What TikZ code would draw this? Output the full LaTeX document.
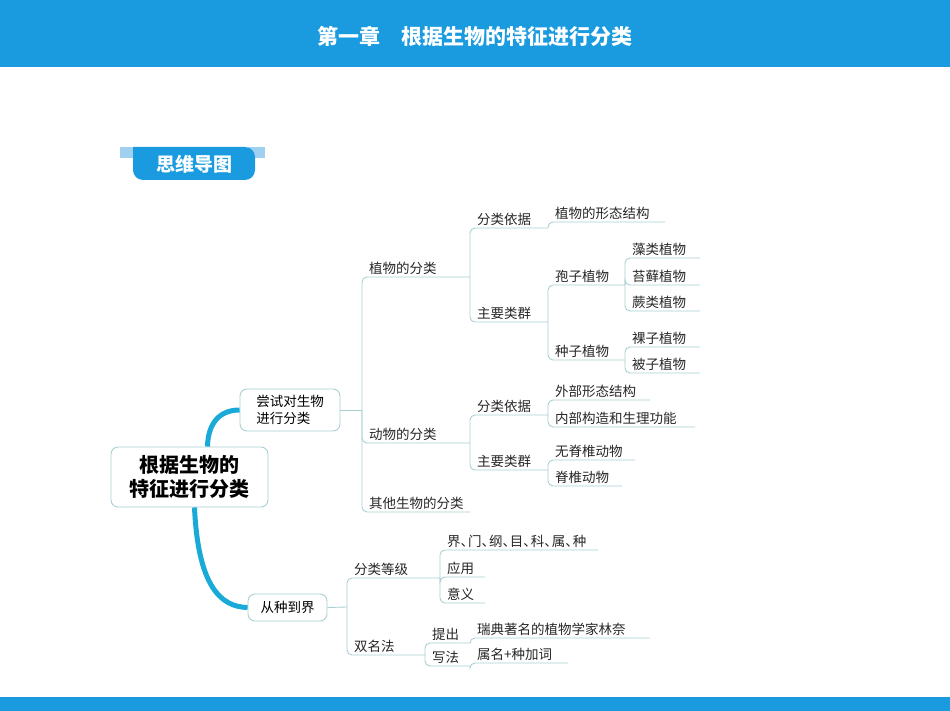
\documentclass[tikz,border=0pt]{standalone}
\usepackage{fontspec}
\setmainfont{Noto Sans CJK SC}
\usetikzlibrary{calc}

\definecolor{hdrblue}{HTML}{1A9BDF}
\definecolor{tabblue}{HTML}{9FD0F0}
\definecolor{brline}{HTML}{A9CFD2}
\definecolor{trunk}{HTML}{1AAAD8}

\tikzset{
  br/.style={draw=brline, line width=0.9pt, rounded corners=5pt},
  lbl/.style={inner sep=1pt, font=\fontsize{13.5}{15}\selectfont, text=black!85},
  box/.style={draw=brline, line width=0.9pt, rounded corners=7pt, align=left},
}
% leaf: name, start x, underline y, end x, text
\newcommand\mmleaf[5]{%
  \coordinate (#1-e) at (#4,#3);
  \node[lbl, anchor=south west] (#1) at (#2+6,#3-1) {#5};}

\begin{document}
\begin{tikzpicture}[x=1pt,y=-1pt]
\useasboundingbox (0,0) rectangle (950,711);

% header and footer
\fill[hdrblue] (0,0) rectangle (950,67);
\node[text=white, font=\fontsize{21}{24}\selectfont\bfseries] (title) at (475,36) {第一章\quad 根据生物的特征进行分类};
\fill[hdrblue] (0,697) rectangle (950,711);

% badge
\fill[tabblue] (120,147) rectangle (140,158);
\fill[tabblue] (248,147) rectangle (265,158);
\fill[hdrblue, rounded corners=10pt] (133,147) -- (133,180) -- (255,180) -- (255,147) [sharp corners] -- cycle;
\node[text=white, font=\fontsize{19}{22}\selectfont\bfseries] (badge) at (194,164) {思维导图};

% root and first level
\node[box, minimum width=157pt, minimum height=60pt, align=center,
      font=\fontsize{20}{24}\selectfont\bfseries] (root) at (189.5,477) {根据生物的\\特征进行分类};
\node[box, minimum width=100pt, minimum height=42pt, font=\fontsize{13.5}{17}\selectfont] (b1) at (290,410) {尝试对生物\\进行分类};
\node[box, minimum width=79pt, minimum height=27pt, font=\fontsize{13.5}{17}\selectfont] (b2) at (287.5,607.5) {从种到界};

\draw[trunk, line width=5pt] (root.north) ++(18,0) coordinate (rt)
  (rt) .. controls (208,425) and (218,410) .. (b1.west);
\draw[trunk, line width=5pt] (root.south) ++(5,0) coordinate (rb)
  (rb) .. controls (198,585) and (220,607) .. (b2.west);

\coordinate (j1) at (362,410);
\coordinate (j2) at (347,607);
\draw[br] (b1.east) -- (j1);
\draw[br] (b2.east) -- (j2);

% plants and animals
\mmleaf{plant}{362}{277}{470}{植物的分类}
\mmleaf{animal}{362}{443}{470}{动物的分类}
\mmleaf{other}{362}{512}{470}{其他生物的分类}
\mmleaf{pbasis}{470}{228}{548}{分类依据}
\mmleaf{pform}{548}{222}{665}{植物的形态结构}
\mmleaf{pgroup}{470}{322}{548}{主要类群}
\mmleaf{spore}{548}{285}{625}{孢子植物}
\mmleaf{algae}{625}{258}{700}{藻类植物}
\mmleaf{moss}{625}{285}{700}{苔藓植物}
\mmleaf{fern}{625}{311}{700}{蕨类植物}
\mmleaf{seed}{548}{360}{625}{种子植物}
\mmleaf{gymno}{625}{347}{700}{裸子植物}
\mmleaf{angio}{625}{373}{700}{被子植物}
\mmleaf{abasis}{470}{415}{548}{分类依据}
\mmleaf{aext}{548}{400}{650}{外部形态结构}
\mmleaf{aint}{548}{427}{695}{内部构造和生理功能}
\mmleaf{agroup}{470}{470}{548}{主要类群}
\mmleaf{invert}{548}{460}{635}{无脊椎动物}
\mmleaf{vert}{548}{486}{622}{脊椎动物}

% from species to kingdom
\mmleaf{rank}{347}{578}{440}{分类等级}
\mmleaf{levels}{440}{550}{598}{界、\kern-.45em门、\kern-.45em纲、\kern-.45em目、\kern-.45em科、\kern-.45em属、\kern-.45em种}
\mmleaf{use}{440}{577}{485}{应用}
\mmleaf{mean}{440}{603}{485}{意义}
\mmleaf{binom}{347}{655}{425}{双名法}
\mmleaf{prop}{425}{643}{470}{提出}
\mmleaf{linn}{470}{638}{650}{瑞典著名的植物学家林奈}
\mmleaf{write}{425}{666}{470}{写法}
\mmleaf{genus}{470}{663}{568}{属名+种加词}

\foreach \p/\c in {j1/plant, j1/animal, j1/other,
    plant-e/pbasis, plant-e/pgroup, pbasis-e/pform,
    pgroup-e/spore, pgroup-e/seed,
    spore-e/algae, spore-e/moss, spore-e/fern,
    seed-e/gymno, seed-e/angio,
    animal-e/abasis, animal-e/agroup,
    abasis-e/aext, abasis-e/aint,
    agroup-e/invert, agroup-e/vert,
    j2/rank, j2/binom,
    rank-e/levels, rank-e/use, rank-e/mean,
    binom-e/prop, binom-e/write,
    prop-e/linn, write-e/genus}
  \draw[br] (\p) |- (\c-e);
\end{tikzpicture}
\end{document}
